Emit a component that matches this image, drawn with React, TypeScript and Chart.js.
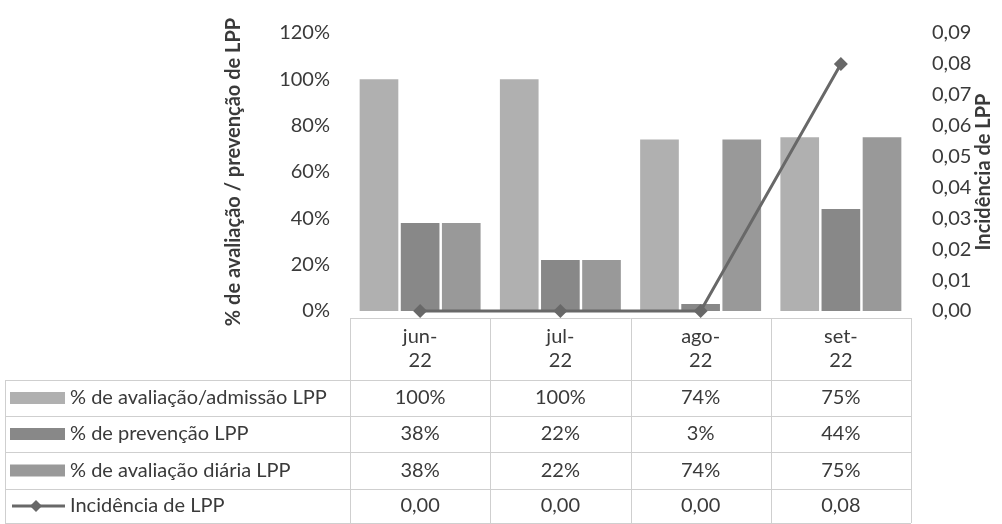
import React, { useEffect, useRef } from "react";
import { Chart, registerables } from "chart.js";

Chart.register(...registerables);

const categories = ["jun-22", "jul-22", "ago-22", "set-22"];
const admissao = [100, 100, 74, 75];
const prevencao = [38, 22, 3, 44];
const diaria = [38, 22, 74, 75];
const incidencia = [0, 0, 0, 0.08];

const seriesNames = [
  "% de avaliação/admissão LPP",
  "% de prevenção LPP",
  "% de avaliação diária LPP",
  "Incidência de LPP",
];
const leftTitle = "% de avaliação / prevenção de LPP";
const rightTitle = "Incidência de LPP";

const colors = ["#b0b0b0", "#888888", "#999999", "#686868"];
const textColor = "#3a3a3a";
const FONT = "Lato, 'Open Sans', sans-serif";

const fmtPct = (v: number) => `${v}%`;
const fmtDec = (v: number) => v.toFixed(2).replace(".", ",");

const tablePlugin = {
  id: "dataTable",
  afterDraw(chart: any) {
    const ctx = chart.ctx as CanvasRenderingContext2D;
    const xs = chart.scales.x;
    const area = chart.chartArea;
    const n = categories.length;
    const centers = categories.map((_, i) => xs.getPixelForValue(i));
    const half = (centers[1] - centers[0]) / 2;
    const colLeft = centers[0] - half;
    const colRight = centers[n - 1] + half;
    const tableLeft = 5;
    const headerTop = 318;
    const rowLines = [380, 416, 452, 489, 523];

    ctx.save();
    // right axis title, reading bottom to top
    ctx.fillStyle = textColor;
    ctx.font = `bold 20px ${FONT}`;
    ctx.textAlign = "center";
    ctx.textBaseline = "middle";
    ctx.save();
    ctx.translate(984, (area.top + area.bottom) / 2);
    ctx.rotate(-Math.PI / 2);
    ctx.fillText(rightTitle, 0, 0);
    ctx.restore();

    ctx.strokeStyle = "#cfcfcf";
    ctx.lineWidth = 1;
    ctx.beginPath();
    ctx.moveTo(colLeft, headerTop + 0.5);
    ctx.lineTo(colRight, headerTop + 0.5);
    rowLines.forEach((y) => {
      ctx.moveTo(tableLeft, y + 0.5);
      ctx.lineTo(colRight, y + 0.5);
    });
    for (let i = 0; i <= n; i++) {
      const x = Math.round(colLeft + i * 2 * half) + 0.5;
      ctx.moveTo(x, headerTop);
      ctx.lineTo(x, rowLines[rowLines.length - 1]);
    }
    ctx.moveTo(tableLeft + 0.5, rowLines[0]);
    ctx.lineTo(tableLeft + 0.5, rowLines[rowLines.length - 1]);
    ctx.stroke();

    ctx.fillStyle = textColor;
    ctx.font = `20px ${FONT}`;
    categories.forEach((c, i) => {
      const parts = c.split("-");
      ctx.fillText(parts[0] + "-", centers[i], 337);
      ctx.fillText(parts[1], centers[i], 361);
    });

    const rows = [
      admissao.map(fmtPct),
      prevencao.map(fmtPct),
      diaria.map(fmtPct),
      incidencia.map(fmtDec),
    ];
    rows.forEach((vals, r) => {
      const yc = (rowLines[r] + rowLines[r + 1]) / 2;
      vals.forEach((v, i) => {
        ctx.fillText(v, centers[i], yc);
      });
      if (r < 3) {
        ctx.fillStyle = colors[r];
        ctx.fillRect(10, yc - 6, 55, 12);
      } else {
        ctx.strokeStyle = colors[3];
        ctx.lineWidth = 3;
        ctx.beginPath();
        ctx.moveTo(12, yc);
        ctx.lineTo(65, yc);
        ctx.stroke();
        ctx.fillStyle = colors[3];
        ctx.beginPath();
        ctx.moveTo(36, yc - 6);
        ctx.lineTo(42, yc);
        ctx.lineTo(36, yc + 6);
        ctx.lineTo(30, yc);
        ctx.closePath();
        ctx.fill();
      }
      ctx.fillStyle = textColor;
      ctx.textAlign = "left";
      ctx.fillText(seriesNames[r], 70, yc);
      ctx.textAlign = "center";
    });
    ctx.restore();
  },
};

export default function App() {
  const ref = useRef<HTMLCanvasElement>(null);
  useEffect(() => {
    document.body.style.margin = "0";
    const barCommon = {
      categoryPercentage: 0.88,
      barPercentage: 0.94,
      order: 1,
      yAxisID: "y",
    };
    const chart = new Chart(ref.current!, {
      type: "bar",
      data: {
        labels: categories,
        datasets: [
          { ...barCommon, type: "bar", label: seriesNames[0], data: admissao, backgroundColor: colors[0] },
          { ...barCommon, type: "bar", label: seriesNames[1], data: prevencao, backgroundColor: colors[1] },
          { ...barCommon, type: "bar", label: seriesNames[2], data: diaria, backgroundColor: colors[2] },
          {
            type: "line",
            label: seriesNames[3],
            data: incidencia,
            yAxisID: "y1",
            order: 0,
            borderColor: colors[3],
            backgroundColor: colors[3],
            borderWidth: 3,
            pointStyle: "rectRot",
            pointRadius: 7,
            pointBorderWidth: 0,
            clip: false,
          } as any,
        ],
      },
      options: {
        responsive: false,
        animation: false,
        layout: { padding: { left: 220, right: 6, top: 28, bottom: 213 } },
        plugins: { legend: { display: false }, tooltip: { enabled: false } },
        scales: {
          x: { display: false, offset: true, grid: { display: false } },
          y: {
            position: "left",
            min: 0,
            max: 120,
            grid: { display: false, drawTicks: false },
            border: { display: false },
            ticks: {
              stepSize: 20,
              padding: 20,
              color: textColor,
              font: { family: FONT, size: 20 },
              callback: (v: any) => `${v}%`,
            },
            title: {
              display: true,
              text: leftTitle,
              color: textColor,
              font: { family: FONT, size: 20, weight: "bold" },
              padding: { top: 2, bottom: 2 },
            },
            afterFit: (s: any) => {
              s.width = 130;
            },
          },
          y1: {
            position: "right",
            min: 0,
            max: 0.09,
            grid: { display: false, drawTicks: false },
            border: { display: false },
            ticks: {
              stepSize: 0.01,
              padding: 21,
              color: textColor,
              font: { family: FONT, size: 20 },
              callback: (v: any) => fmtDec(Number(v)),
            },
            title: { display: false },
            afterFit: (s: any) => {
              s.width = 85;
            },
          },
        },
      },
      plugins: [tablePlugin],
    });
    return () => chart.destroy();
  }, []);
  return <canvas ref={ref} width={1002} height={524} style={{ display: "block" }} />;
}
